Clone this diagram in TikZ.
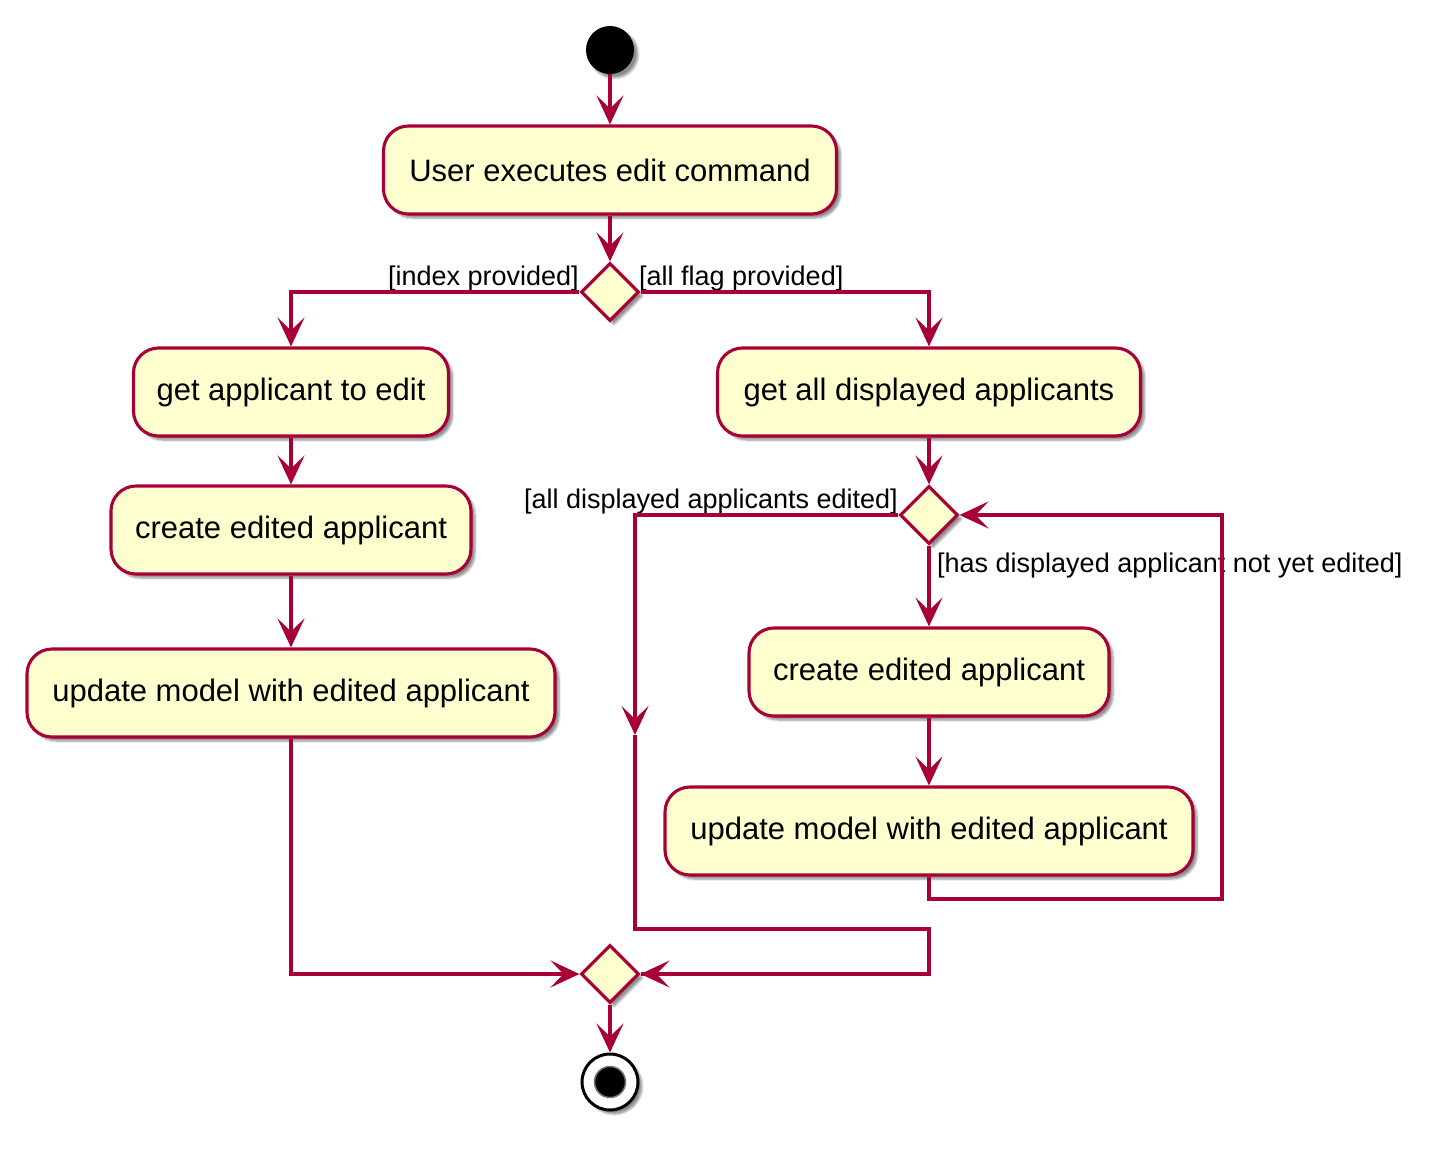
\documentclass[tikz,border=0pt]{standalone}
\usepackage{fontspec}
\setmainfont{Liberation Sans}
\usetikzlibrary{arrows.meta,shapes.geometric,shadows.blur}
\definecolor{pborder}{HTML}{A80036}
\definecolor{pfill}{HTML}{FEFECE}
\begin{document}
\begin{tikzpicture}[x=1pt,y=-1pt,
  shad/.style={blur shadow={shadow xshift=4pt, shadow yshift=-4pt, shadow blur steps=6, shadow opacity=45}},
  act/.style={shad, draw=pborder, line width=3.1pt, fill=pfill, rounded corners=25pt, minimum height=88pt, inner sep=0pt, font=\fontsize{31}{36}\selectfont},
  dec/.style={shad, diamond, draw=pborder, line width=3.1pt, fill=pfill, minimum size=58pt, inner sep=0pt},
  flow/.style={draw=pborder, line width=3.1pt, -{Stealth[length=29pt,width=27pt,inset=13pt]}},
  plain/.style={draw=pborder, line width=3.1pt},
  guard/.style={font=\fontsize{27}{32}\selectfont, inner sep=0pt}
]
\useasboundingbox (0,0) rectangle (1433,1149);

% nodes
\node[shad, circle, fill=black, minimum size=48pt, inner sep=0pt] (start) at (610,50) {};
\node[act, minimum width=453pt] (a1) at (610,170) {User executes edit command};
\node[dec] (d1) at (610,292) {};
\node[act, minimum width=315pt] (a2) at (291,392) {get applicant to edit};
\node[act, minimum width=423pt] (a3) at (929,392) {get all displayed applicants};
\node[act, minimum width=360pt] (a4) at (291,530) {create edited applicant};
\node[act, minimum width=528pt] (a5) at (291,693) {update model with edited applicant};
\node[dec] (d2) at (929,515) {};
\node[act, minimum width=360pt] (a6) at (929,672) {create edited applicant};
\node[act, minimum width=528pt] (a7) at (929,831) {update model with edited applicant};
\node[dec] (m) at (610,974) {};
\node[shad, circle, draw=black, line width=3pt, fill=white, minimum size=56pt, inner sep=0pt] (stop) at (610,1082) {};
\node[circle, draw=black!55, line width=1.5pt, fill=black, minimum size=31pt, inner sep=0pt] (stopin) at (610,1082) {};

% guards
\node[guard, anchor=base east] (g1) at (579,285) {[index provided]};
\node[guard, anchor=base west] (g2) at (639,285) {[all flag provided]};
\node[guard, anchor=base east] (g3) at (898,508) {[all displayed applicants edited]};
\node[guard, anchor=base west] (g4) at (937,572) {[has displayed applicant not yet edited]};

% helper coordinates
\coordinate (la) at (635,735);
\coordinate (lb) at (635,929);
\coordinate (lc) at (929,929);
\coordinate (ra) at (1222,713);
\coordinate (rb) at (929,899);

% connectors
\draw[flow] (start) -- (a1);
\draw[flow] (a1) -- (d1);
\draw[flow] (d1.west) -| (a2.north);
\draw[flow] (d1.east) -| (a3.north);
\draw[flow] (a2) -- (a4);
\draw[flow] (a4) -- (a5);
\draw[flow] (a3) -- (d2);
\draw[flow] (d2) -- (a6);
\draw[flow] (a6) -- (a7);
\draw[flow] (d2.west) -| (la);
\draw[plain] (la) -- (lb) -- (lc) |- (m.east);
\draw[flow] (lc |- m.east) -- (m.east);
\draw[plain] (a7.south) -- (rb) -| (ra);
\draw[flow] (ra) |- (d2.east);
\draw[flow] (a5.south) |- (m.west);
\draw[flow] (m) -- (stop);
\end{tikzpicture}
\end{document}
